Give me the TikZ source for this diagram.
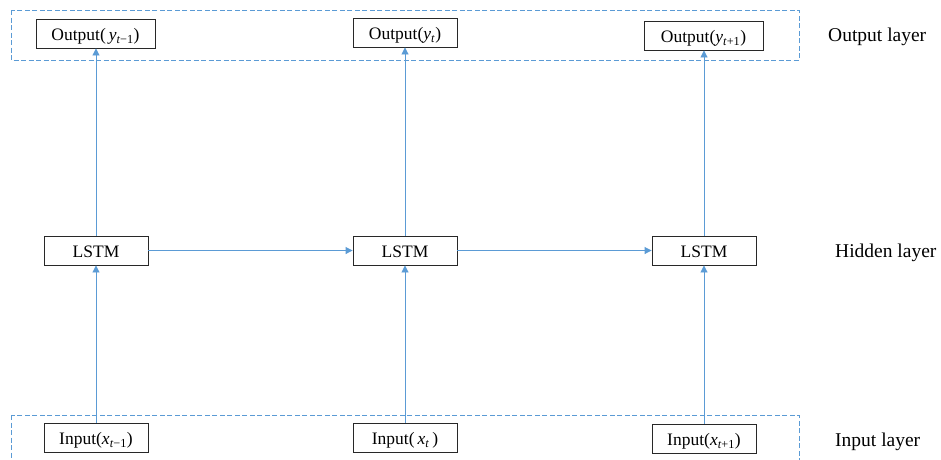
\documentclass[tikz,border=0pt]{standalone}
\usepackage{fontspec}
\setmainfont{Liberation Serif}
\usetikzlibrary{arrows.meta}
\definecolor{lineblue}{RGB}{91,155,213}
\definecolor{boxgray}{RGB}{40,40,40}
\newcommand{\vsub}[2]{\textit{#1}\textsubscript{#2}}
\begin{document}
\begin{tikzpicture}[x=1pt,y=-1pt,
  cell/.style={draw=boxgray,line width=0.9pt,fill=white,minimum height=29pt,inner sep=0pt,
    text height=14pt,text depth=0pt,font=\fontsize{17.5}{20}\selectfont},
  wide/.style={cell,minimum width=119pt},
  narrow/.style={cell,minimum width=104pt},
  layerbox/.style={draw=lineblue,line width=0.9pt,dash pattern=on 5pt off 2.5pt},
  flow/.style={draw=lineblue,line width=0.9pt,-{Triangle[length=7pt,width=7pt]}},
  layerlabel/.style={anchor=base west,inner sep=0pt,font=\fontsize{19.5}{22}\selectfont}]
\clip (0,0) rectangle (941,459);
\fill[white] (0,0) rectangle (941,459);
% layer frames
\draw[layerbox] (11,10) rectangle (799,60);
\draw[layerbox] (11,415) rectangle (799,480);
% output nodes
\node[wide] (o1) at (95.5,33.5) {Output(\,\vsub{y}{\textit{t}−1})};
\node[narrow] (o2) at (405,32.5) {Output(\vsub{y}{\textit{t}})};
\node[wide] (o3) at (703.5,35.5) {Output(\vsub{y}{\textit{t}+1})};
% hidden nodes
\node[narrow] (h1) at (96,250.5) {LSTM};
\node[narrow] (h2) at (405,250.5) {LSTM};
\node[narrow] (h3) at (704,250.5) {LSTM};
% input nodes
\node[narrow] (i1) at (96,437.5) {Input(\vsub{x}{\textit{t}−1})};
\node[narrow] (i2) at (405,437.5) {Input(\,\vsub{x}{\textit{t}}\,)};
\node[narrow] (i3) at (704,438.5) {Input(\vsub{x}{\textit{t}+1})};
% connectors
\draw[flow] (i1.north) -- (h1.south);
\draw[flow] (i2.north) -- (h2.south);
\draw[flow] (i3.north) -- (h3.south);
\draw[flow] (h1.north) -- (o1.south -| h1.north);
\draw[flow] (h2.north) -- (o2.south);
\draw[flow] (h3.north) -- (o3.south -| h3.north);
\draw[flow] (h1.east) -- (h2.west);
\draw[flow] (h2.east) -- (h3.west);
% layer labels
\node[layerlabel] (lo) at (828,41.5) {Output layer};
\node[layerlabel] (lh) at (835,257.3) {Hidden layer};
\node[layerlabel] (li) at (835,446) {Input layer};
\end{tikzpicture}
\end{document}
